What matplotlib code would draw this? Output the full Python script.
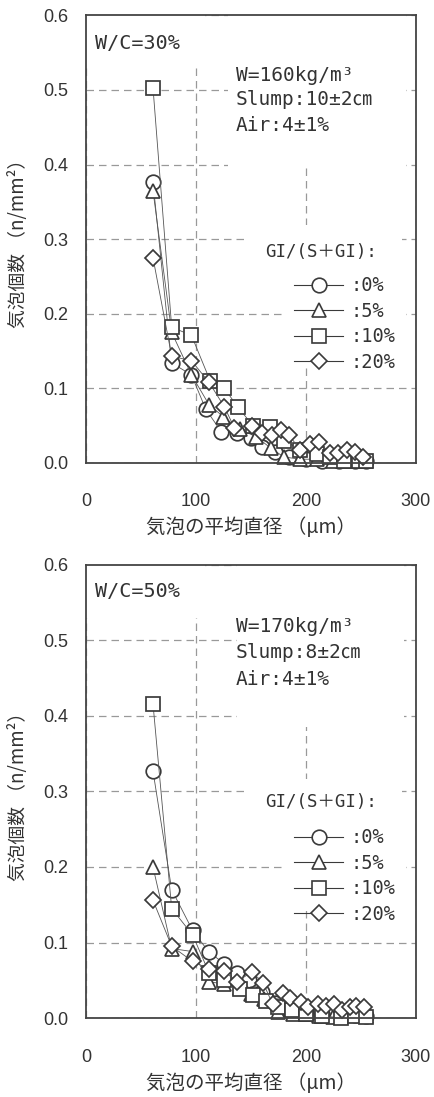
import matplotlib
matplotlib.use("Agg")
import matplotlib.pyplot as plt
from matplotlib.lines import Line2D
from matplotlib.patches import Rectangle

plt.rcParams["font.family"] = ["Liberation Sans", "Noto Sans CJK JP", "DejaVu Sans"]

# W/C=30% panel
c30_x = [61, 78, 96, 109, 123, 137, 150, 160, 172, 185, 200, 215, 230, 245, 255]
c30_y = [0.376, 0.134, 0.118, 0.072, 0.042, 0.040, 0.033, 0.022, 0.015, 0.008, 0.005, 0.003, 0.002, 0.002, 0.003]
t30_x = [61, 78, 96, 112, 125, 140, 155, 168, 180, 195, 210, 225, 240, 255]
t30_y = [0.365, 0.175, 0.118, 0.078, 0.062, 0.045, 0.035, 0.020, 0.008, 0.005, 0.005, 0.003, 0.002, 0.002]
s30_x = [61, 78, 96, 113, 126, 138, 152, 167, 180, 195, 210, 222, 235, 248, 255]
s30_y = [0.503, 0.182, 0.171, 0.110, 0.100, 0.075, 0.050, 0.048, 0.030, 0.018, 0.012, 0.008, 0.003, 0.002, 0.002]
d30_x = [61, 78, 96, 112, 126, 135, 151, 160, 169, 177, 185, 195, 204, 212, 222, 229, 237, 245, 252]
d30_y = [0.275, 0.143, 0.137, 0.108, 0.075, 0.047, 0.050, 0.040, 0.037, 0.044, 0.037, 0.017, 0.026,
         0.028, 0.013, 0.013, 0.017, 0.015, 0.008]

# W/C=50% panel
c50_x = [61, 78, 97, 112, 126, 137, 148, 160, 172, 185, 200, 215, 230, 245, 255]
c50_y = [0.327, 0.170, 0.116, 0.087, 0.072, 0.060, 0.050, 0.035, 0.020, 0.010, 0.008, 0.005, 0.003, 0.004, 0.003]
t50_x = [61, 78, 97, 112, 126, 140, 150, 162, 175, 188, 200, 212, 225, 240, 255]
t50_y = [0.200, 0.092, 0.088, 0.048, 0.045, 0.040, 0.032, 0.025, 0.008, 0.005, 0.005, 0.003, 0.002, 0.004, 0.003]
s50_x = [61, 78, 97, 112, 126, 140, 152, 164, 175, 187, 200, 215, 232, 245, 255]
s50_y = [0.416, 0.145, 0.110, 0.060, 0.050, 0.038, 0.030, 0.022, 0.015, 0.010, 0.005, 0.003, 0.000, 0.003, 0.002]
d50_x = [61, 78, 97, 112, 126, 137, 151, 161, 170, 179, 186, 196, 202, 211, 218, 226, 233, 240, 246, 253]
d50_y = [0.156, 0.095, 0.075, 0.065, 0.062, 0.048, 0.061, 0.047, 0.018, 0.033, 0.026, 0.021, 0.014,
         0.018, 0.016, 0.018, 0.010, 0.015, 0.016, 0.014]

legend_labels = [":0%", ":5%", ":10%", ":20%"]
legend_title = "GI/(S＋GI):"
xlabel = "気泡の平均直径 （μm）"
ylabel = "気泡個数 （n/mm²）"
x_ticks = [0, 100, 200, 300]
y_ticks = [0.0, 0.1, 0.2, 0.3, 0.4, 0.5, 0.6]

INK = "#3a3a3a"
TXT = "#333333"
GRID = "#999999"
MARKERS = [("o", 10.5), ("^", 10.5), ("s", 10.5), ("D", 8.0)]
CJK = ["Noto Sans CJK JP", "DejaVu Sans"]
MONO = ["DejaVu Sans Mono", "Noto Sans CJK JP"]


def draw_panel(ax, series, wc_text, wc_y, info_lines, info_ys, title_y, legend_top, masks):
    ax.set_axisbelow(True)
    # white boxes behind the text blocks, as in the original (they break the grid)
    for (x0, x1, y0, y1) in masks:
        ax.add_patch(Rectangle((x0, y0), x1 - x0, y1 - y0, transform=ax.transAxes,
                               facecolor="white", edgecolor="none", zorder=1))

    for (x, y), (m, ms) in zip(series, MARKERS):
        ax.plot(x, y, color="#555555", lw=0.6, marker=m, ms=ms, mfc="white",
                mec=INK, mew=1.25, clip_on=False, zorder=3)

    ax.set_xlim(0, 300)
    ax.set_ylim(0, 0.6)
    ax.set_xticks(x_ticks)
    ax.set_yticks(y_ticks)
    ax.set_yticklabels([f"{v:.1f}" for v in y_ticks])
    ax.tick_params(axis="both", length=0, labelsize=13, colors=TXT)
    ax.tick_params(axis="x", pad=22)
    ax.tick_params(axis="y", pad=13)
    ax.grid(True, color=GRID, lw=0.9, ls=(0, (6, 4)))
    for sp in ax.spines.values():
        sp.set_color("#444444")
        sp.set_linewidth(1.3)
        sp.set_zorder(4)

    ax.set_xlabel(xlabel, family=CJK, fontsize=14, color=TXT, labelpad=5)
    ax.set_ylabel(ylabel, family=CJK, fontsize=13.5, color=TXT, labelpad=10)

    ax.text(0.027, wc_y, wc_text, transform=ax.transAxes, family=MONO, fontsize=14.5,
            color=TXT, va="center", ha="left", zorder=4)
    x_info = 0.455
    for line, yy in zip(info_lines, info_ys):
        ax.text(x_info, yy, line, transform=ax.transAxes, family=MONO, fontsize=14,
                color=TXT, va="center", ha="left", zorder=4)

    ax.text(0.542, title_y, legend_title, transform=ax.transAxes, family=MONO,
            fontsize=12.5, color=TXT, va="center", ha="left", zorder=4)
    handles = [Line2D([], [], color=INK, lw=0.8, marker=m, ms=ms, mfc="white", mec=INK, mew=1.2)
               for m, ms in MARKERS]
    leg = ax.legend(handles, legend_labels, loc="upper left", bbox_to_anchor=(0.615, legend_top),
                    frameon=False, handlelength=2.6, handletextpad=0.4, labelspacing=0.35,
                    borderpad=0.3, borderaxespad=0, prop={"family": MONO, "size": 13.5})
    leg.set_zorder(4)
    for t in leg.get_texts():
        t.set_color(TXT)


fig = plt.figure(figsize=(4.34, 10.97), dpi=100)
ax1 = fig.add_axes([0.198, 0.578, 0.760, 0.408])
ax2 = fig.add_axes([0.198, 0.072, 0.760, 0.413])

draw_panel(ax1, [(c30_x, c30_y), (t30_x, t30_y), (s30_x, s30_y), (d30_x, d30_y)],
           "W/C=30%", 0.9375,
           ["W=160kg/m³", "Slump:10±2㎝", "Air:4±1%"], [0.866, 0.8125, 0.7545],
           0.471, 0.43,
           [(0.0, 0.36, 0.882, 1.0), (0.43, 0.97, 0.658, 1.0),
            (0.491, 0.958, 0.442, 0.531), (0.594, 0.97, 0.2165, 0.442)])
draw_panel(ax2, [(c50_x, c50_y), (t50_x, t50_y), (s50_x, s50_y), (d50_x, d50_y)],
           "W/C=50%", 0.9407,
           ["W=170kg/m³", "Slump:8±2㎝", "Air:4±1%"], [0.864, 0.807, 0.747],
           0.477, 0.431,
           [(0.0, 0.36, 0.8835, 1.0), (0.458, 0.965, 0.642, 1.0),
            (0.491, 0.958, 0.4396, 0.527), (0.594, 0.97, 0.237, 0.4396)])

fig.savefig("out.png", dpi=100)
